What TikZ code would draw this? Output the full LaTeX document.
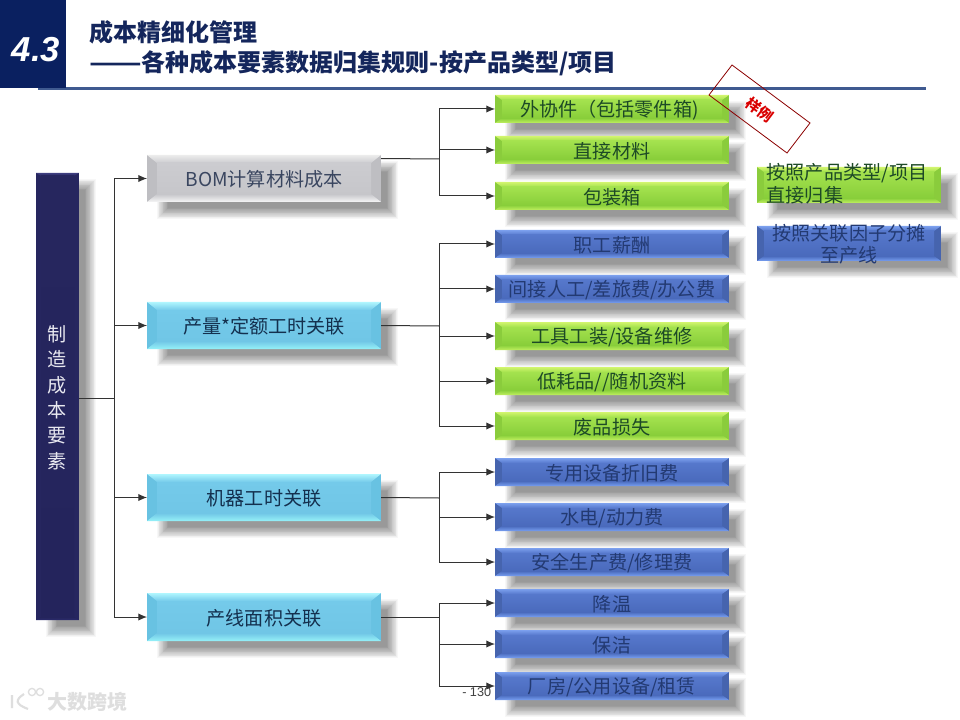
\documentclass[tikz,border=0pt]{standalone}
\usepackage{fontspec}
\setmainfont{Noto Sans CJK SC}
\newfontfamily\latinsans{Liberation Sans}
\usetikzlibrary{arrows.meta}
\definecolor{navy}{HTML}{0A2060}
\definecolor{rule}{HTML}{3F5A90}
\definecolor{titlec}{HTML}{14265C}
% bevel palettes: T top, B bottom, S side, A face top, C face bottom, X text
\definecolor{grnT}{HTML}{D2F56E}\definecolor{grnB}{HTML}{C0F060}\definecolor{grnS}{HTML}{8ACC3C}\definecolor{grnA}{HTML}{A4E24E}\definecolor{grnC}{HTML}{88CE3A}\definecolor{grnX}{HTML}{1D4A26}
\definecolor{bluT}{HTML}{7CA0EE}\definecolor{bluB}{HTML}{78A0F2}\definecolor{bluS}{HTML}{4664AE}\definecolor{bluA}{HTML}{5678CC}\definecolor{bluC}{HTML}{4A6ABC}\definecolor{bluX}{HTML}{233A72}
\definecolor{cynT}{HTML}{B0F6FE}\definecolor{cynB}{HTML}{96F2F8}\definecolor{cynS}{HTML}{68C2E2}\definecolor{cynA}{HTML}{74CAEA}\definecolor{cynC}{HTML}{70C6E6}\definecolor{cynX}{HTML}{14304E}
\definecolor{gryT}{HTML}{ECECEC}\definecolor{gryB}{HTML}{F6F6F6}\definecolor{gryS}{HTML}{BEBEC2}\definecolor{gryA}{HTML}{CCCCD0}\definecolor{gryC}{HTML}{C6C6CA}\definecolor{gryX}{HTML}{3A4660}
\definecolor{navT}{HTML}{3E3E80}\definecolor{navB}{HTML}{2C2C6C}\definecolor{navS}{HTML}{26265F}\definecolor{navA}{HTML}{26265E}\definecolor{navC}{HTML}{24245C}\definecolor{navX}{HTML}{E8E8F0}
\tikzset{
  conn/.style={draw=black!80,line width=0.75pt},
  connarrow/.style={conn,-{Latex[length=6.5pt,width=5.5pt]}},
  boxtext/.style={inner sep=0pt,outer sep=0pt,align=center,font=\fontsize{14.35}{16.5}\selectfont},
  titletext/.style={anchor=base west,inner sep=0pt,text=titlec,font=\bfseries\fontsize{18}{20}\selectfont},
}
% name, x1,y1,x2,y2, bevel, palette, text
\newcommand\bevbox[8]{%
  \foreach \i in {8,7.2,...,-4}{%
    \fill[black,opacity=.03] ({#2+18-\i},{#3+14-\i}) rectangle ({#4+9+\i},{#5+9+\i});
  }%
  \fill[#7S] (#2,#3) rectangle (#4,#5);
  \shade[top color=#7T,bottom color=#7A] (#2,#3) -- (#4,#3) -- ({#4-#6-2},{#3+#6}) -- ({#2+#6+2},{#3+#6}) -- cycle;
  \shade[top color=#7C,bottom color=#7B] (#2,#5) -- (#4,#5) -- ({#4-#6-2},{#5-#6}) -- ({#2+#6+2},{#5-#6}) -- cycle;
  \shade[top color=#7A,bottom color=#7C] ({#2+#6+2},{#3+#6}) rectangle ({#4-#6-2},{#5-#6});
  \node[inner sep=0pt,outer sep=0pt,minimum width={(#4-#2)*0.75pt},minimum height={(#5-#3)*0.75pt}] (#1) at ({(#2+#4)/2},{(#3+#5)/2}) {};
  \node[boxtext,text=#7X] (#1t) at ({(#2+#4)/2},{(#3+#5)/2+1}) {#8};
}
\begin{document}
\begin{tikzpicture}[x=0.75pt,y=-0.75pt]
\useasboundingbox (0,0) rectangle (960,720);
\fill[white] (0,0) rectangle (960,720);
% header
\fill[rule] (38,87.5) rectangle (926,90.5);
\fill[navy] (0,0) rectangle (66,88);
\node[inner sep=0pt,text=white,font=\latinsans\bfseries\itshape\fontsize{26}{26}\selectfont] (num) at (36,50) {4.3};
\node[titletext] (t1) at (89,42) {成本精细化管理};
\node[titletext] (t2) at (89,72) {\scalebox{1.28}[1]{——}各种成本要素数据归集规则-按产品类型/项目};
% page number
\node[inner sep=0pt,anchor=west,text=black!75,font=\latinsans\fontsize{9.5}{10}\selectfont] (pageno) at (462,692.5) {- 130};
% watermark
\node[inner sep=0pt,anchor=west,text=black!13,font=\bfseries\fontsize{15}{15}\selectfont] (wm) at (47,702) {大数跨境};
\draw[black!13,line width=1.6pt] (12,695) -- (12,708) (24,694) .. controls (15,700) and (15,704) .. (28,709);
\draw[black!13,line width=1pt] (32,692) circle (3.6) (40,692) circle (3.6);
% left column
\bevbox{root}{36}{173}{79}{620}{3}{nav}{制\\[2.6pt]造\\[2.6pt]成\\[2.6pt]本\\[2.6pt]要\\[2.6pt]素}
% middle
\bevbox{bom}{147}{155}{381}{202}{8}{gry}{BOM计算材料成本}
\bevbox{labor}{147}{302}{381}{349}{8}{cyn}{产量*定额工时关联}
\bevbox{mach}{147}{474}{381}{521}{8}{cyn}{机器工时关联}
\bevbox{area}{147}{593}{381}{641}{8}{cyn}{产线面积关联}
% right
\bevbox{a1}{495}{95}{729}{123}{5}{grn}{外协件（包括零件箱)\hspace*{4pt}}
\bevbox{a2}{495}{136}{729}{164}{5}{grn}{直接材料}
\bevbox{a3}{495}{182}{729}{210}{5}{grn}{包装箱}
\bevbox{b1}{495}{230}{729}{258}{5}{blu}{职工薪酬}
\bevbox{b2}{495}{275}{729}{303}{5}{blu}{间接人工/差旅费/办公费}
\bevbox{b3}{495}{322}{729}{350}{5}{grn}{工具工装/设备维修}
\bevbox{b4}{495}{367}{729}{395}{5}{grn}{低耗品//随机资料}
\bevbox{b5}{495}{412}{729}{440}{5}{grn}{废品损失}
\bevbox{c1}{495}{458}{729}{486}{5}{blu}{专用设备折旧费}
\bevbox{c2}{495}{503}{729}{531}{5}{blu}{水电/动力费}
\bevbox{c3}{495}{548}{729}{576}{5}{blu}{安全生产费/修理费}
\bevbox{d1}{495}{589}{729}{617}{5}{blu}{降温}
\bevbox{d2}{495}{630}{729}{658}{5}{blu}{保洁}
\bevbox{d3}{495}{672}{729}{700}{5}{blu}{厂房/公用设备/租赁}
% legend
\draw[draw=red!55!black,line width=0.6pt] (732,65) -- (810,123) -- (787,153) -- (709,95) -- cycle;
\node[inner sep=0pt,rotate=-37,text=red!85!black,font=\bfseries\fontsize{11}{11}\selectfont] (sample) at (760,110) {样例};
\bevbox{lg}{757}{167}{941}{203}{5}{grn}{\hspace*{-3pt}\raisebox{-1.5pt}{\begin{tabular}{@{}l@{}}按照产品类型/项目\\直接归集\end{tabular}}}
\bevbox{lb}{757}{226}{941}{261}{5}{blu}{按照关联因子分摊\\至产线}
% junctions
\coordinate (jr) at (114,398);
\coordinate (j1) at (439,159);
\coordinate (j2) at (439,326);
\coordinate (j3) at (439,498);
\coordinate (j4) at (439,617);
% connectors
\draw[conn] (root.east |- jr) -- (jr);
\foreach \m in {bom,labor,mach,area} \draw[connarrow] (jr) |- (\m.west);
\draw[conn] ([yshift=15pt]bom.east) -- (j1);
\draw[conn] (labor.east) -- (j2);
\draw[conn] (mach.east) -- (j3);
\draw[conn] (area.east) -- (j4);
\foreach \c in {a1,a2,a3} \draw[connarrow] (j1) |- (\c.west);
\foreach \c in {b1,b2,b3,b4,b5} \draw[connarrow] (j2) |- (\c.west);
\foreach \c in {c1,c2,c3} \draw[connarrow] (j3) |- (\c.west);
\foreach \c in {d1,d2,d3} \draw[connarrow] (j4) |- (\c.west);
\end{tikzpicture}
\end{document}
